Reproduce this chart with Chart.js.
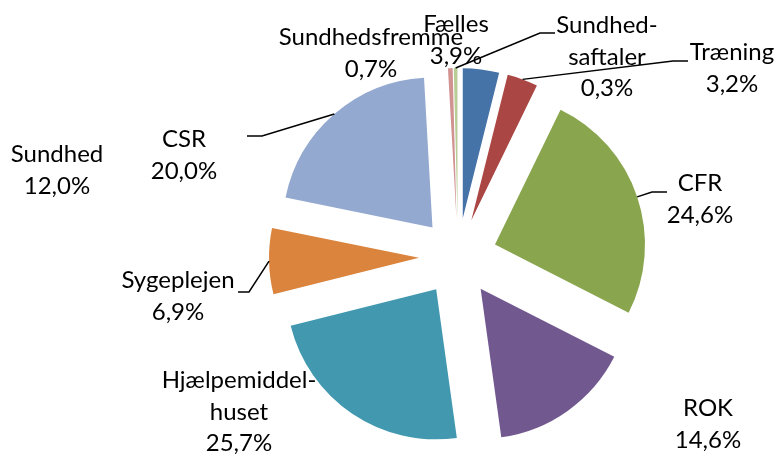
<!DOCTYPE html>
<html lang="da">
<head>
    <meta charset="UTF-8">
    <title>Fordeling</title>
    <script src="https://cdn.jsdelivr.net/npm/chart.js@4/dist/chart.umd.min.js"></script>
    <style>
        html, body { margin: 0; padding: 0; background: #fff; }
        #wrap { width: 779px; height: 454px; }
    </style>
</head>
<body>
    <div id="wrap"><canvas id="pie"></canvas></div>
    <script>
// data, clockwise from 12 o'clock
const categories = ['Fælles', 'Træning', 'CFR', 'ROK', 'Hjælpemiddelhuset', 'Sygeplejen',
                    'Sundhed', 'CSR', 'Sundhedsfremme', 'Sundhedsaftaler'];
// slice sizes as drawn in the picture (Sundhed has a label but no slice)
const shares = [3.9, 3.3, 25.3, 15.3, 23.3, 7.1, 0, 20.9, 0.5, 0.4];
// percentages as printed on the labels
const shareLabels = ['3,9%', '3,2%', '24,6%', '14,6%', '25,7%', '6,9%',
                     '12,0%', '20,0%', '0,7%', '0,3%'];

const colors = ['#4572A7', '#AA4643', '#89A54E', '#71588F', '#4198AF', '#DB843D',
                '#A47D7C', '#93A9CF', '#D19392', '#B9CD96'];

const RADIUS = 150;
const EXPLODE = 39;   // px each slice is pulled out

// label placement (centre x, first baseline y), line breaks and leader start
const labelPos = {
    'Fælles':            { x: 456, y: 32 },
    'Træning':           { x: 732, y: 60, lead: [688, 61, -15] },
    'CFR':               { x: 700, y: 191, lead: [667, 192, -15] },
    'ROK':               { x: 708, y: 416 },
    'Hjælpemiddelhuset': { x: 239, y: 388, brk: 12 },
    'Sygeplejen':        { x: 178, y: 288, lead: [238, 292, 11] },
    'Sundhed':           { x: 57, y: 162 },
    'CSR':               { x: 184, y: 147, lead: [247, 136, 15] },
    'Sundhedsfremme':    { x: 371, y: 45 },
    'Sundhedsaftaler':   { x: 607, y: 33, brk: 7, lead: [555, 33, -15] }
};
const lineGap = 31.5;

// the built-in arc offset also trims thin slices, so pull the slices out by hand
const explodeArcs = {
    id: 'explodeArcs',
    beforeDatasetDraw(chart, args) {
        const ctx = chart.ctx;
        args.meta.data.forEach(a => {
            const mid = (a.startAngle + a.endAngle) / 2;
            ctx.save();
            ctx.translate(Math.cos(mid) * EXPLODE, Math.sin(mid) * EXPLODE);
            a.draw(ctx);
            ctx.restore();
        });
        return false;
    }
};

const labelPlugin = {
    id: 'pieLabels',
    afterDraw(chart) {
        const ctx = chart.ctx;
        const arcs = chart.getDatasetMeta(0).data;
        ctx.save();
        // leader lines
        ctx.strokeStyle = '#000';
        ctx.lineWidth = 1.5;
        categories.forEach((name, i) => {
            const p = labelPos[name];
            if (!p.lead) return;
            const a = arcs[i];
            const mid = (a.startAngle + a.endAngle) / 2;
            const r = a.outerRadius + EXPLODE;
            ctx.beginPath();
            ctx.moveTo(p.lead[0], p.lead[1]);
            ctx.lineTo(p.lead[0] + p.lead[2], p.lead[1]);
            ctx.lineTo(a.x + Math.cos(mid) * r, a.y + Math.sin(mid) * r);
            ctx.stroke();
        });
        // texts
        ctx.fillStyle = '#000';
        ctx.font = '24px Lato';
        ctx.textAlign = 'center';
        ctx.textBaseline = 'alphabetic';
        categories.forEach((name, i) => {
            const p = labelPos[name];
            let lines = [name];
            if (p.brk) lines = [name.slice(0, p.brk) + '-', name.slice(p.brk)];
            lines.push(shareLabels[i]);
            lines.forEach((t, k) => ctx.fillText(t, p.x, p.y + k * lineGap));
        });
        ctx.restore();
    }
};

const chart = new Chart(document.getElementById('pie'), {
    type: 'pie',
    data: {
        labels: categories,
        datasets: [{
            data: shares,
            backgroundColor: colors,
            borderWidth: 0,
            radius: RADIUS
        }]
    },
    options: {
        responsive: true,
        maintainAspectRatio: false,
        animation: false,
        layout: { padding: { left: 137, right: 0, top: 60, bottom: 0 } },
        plugins: {
            legend: { display: false },
            tooltip: { enabled: false }
        }
    },
    plugins: [explodeArcs, labelPlugin]
});
    </script>
</body>
</html>
